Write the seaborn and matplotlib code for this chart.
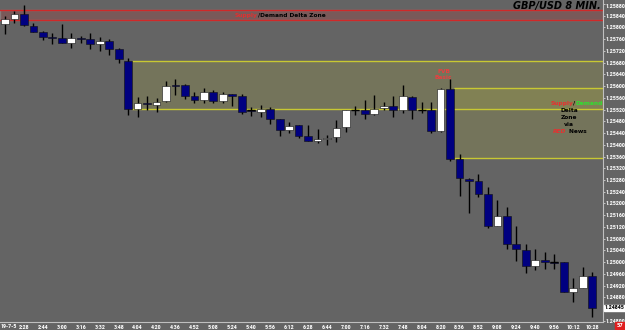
import matplotlib
matplotlib.use("Agg")
import matplotlib.pyplot as plt
from matplotlib import font_manager
import seaborn as sns
import numpy as np
import pandas as pd

# ---------------- data (GBP/USD, 8-minute candles) ----------------
times = ["19-7-5", "2:20", "2:28", "2:36", "2:44", "2:52", "3:00", "3:08", "3:16", "3:24",
         "3:32", "3:40", "3:48", "3:56", "4:04", "4:12", "4:20", "4:28", "4:36", "4:44",
         "4:52", "5:00", "5:08", "5:16", "5:24", "5:32", "5:40", "5:48", "5:56", "6:04",
         "6:12", "6:20", "6:28", "6:36", "6:44", "6:52", "7:00", "7:08", "7:16", "7:24",
         "7:32", "7:40", "7:48", "7:56", "8:04", "8:12", "8:20", "8:28", "8:36", "8:44",
         "8:52", "9:00", "9:08", "9:16", "9:24", "9:32", "9:40", "9:48", "9:56", "10:04",
         "10:12", "10:20", "10:28"]
opens = [1.25812, 1.25829, 1.25846, 1.25806, 1.25786, 1.25768, 1.25765, 1.25748, 1.25765, 1.25761,
         1.25744, 1.25755, 1.25727, 1.25687, 1.25521, 1.25543, 1.25536, 1.25549, 1.25604, 1.25604,
         1.25566, 1.25553, 1.25579, 1.25550, 1.25573, 1.25566, 1.25517, 1.25512, 1.25521, 1.25487,
         1.25450, 1.25467, 1.25430, 1.25414, 1.25420, 1.25427, 1.25462, 1.25519, 1.25519, 1.25504,
         1.25524, 1.25532, 1.25519, 1.25564, 1.25519, 1.25519, 1.25448, 1.25590, 1.25351, 1.25283,
         1.25276, 1.25232, 1.25124, 1.25157, 1.25062, 1.25041, 1.24988, 1.25007, 1.24999, 1.25001,
         1.24899, 1.24913, 1.24953]
highs = [1.25839, 1.25856, 1.25877, 1.25814, 1.25788, 1.25782, 1.25812, 1.25782, 1.25771, 1.25780,
         1.25766, 1.25761, 1.25730, 1.25695, 1.25564, 1.25566, 1.25558, 1.25617, 1.25623, 1.25606,
         1.25581, 1.25593, 1.25587, 1.25581, 1.25574, 1.25573, 1.25530, 1.25536, 1.25528, 1.25488,
         1.25479, 1.25468, 1.25467, 1.25453, 1.25433, 1.25484, 1.25520, 1.25532, 1.25553, 1.25570,
         1.25547, 1.25566, 1.25604, 1.25565, 1.25547, 1.25547, 1.25595, 1.25624, 1.25369, 1.25288,
         1.25299, 1.25255, 1.25212, 1.25187, 1.25123, 1.25062, 1.25044, 1.25035, 1.25027, 1.25002,
         1.24947, 1.24984, 1.24967]
lows = [1.25778, 1.25816, 1.25806, 1.25785, 1.25757, 1.25743, 1.25747, 1.25729, 1.25748, 1.25726,
        1.25720, 1.25706, 1.25678, 1.25502, 1.25494, 1.25519, 1.25513, 1.25547, 1.25570, 1.25555,
        1.25541, 1.25543, 1.25541, 1.25543, 1.25532, 1.25504, 1.25499, 1.25496, 1.25471, 1.25430,
        1.25439, 1.25422, 1.25413, 1.25407, 1.25399, 1.25410, 1.25444, 1.25502, 1.25488, 1.25503,
        1.25519, 1.25496, 1.25509, 1.25487, 1.25507, 1.25441, 1.25444, 1.25345, 1.25225, 1.25168,
        1.25223, 1.25115, 1.25122, 1.25044, 1.25004, 1.24964, 1.24973, 1.24975, 1.24975, 1.24897,
        1.24865, 1.24912, 1.24814]
closes = [1.25828, 1.25846, 1.25808, 1.25786, 1.25769, 1.25764, 1.25748, 1.25765, 1.25761, 1.25743,
          1.25755, 1.25727, 1.25691, 1.25521, 1.25541, 1.25538, 1.25547, 1.25601, 1.25602, 1.25566,
          1.25553, 1.25581, 1.25549, 1.25572, 1.25566, 1.25511, 1.25515, 1.25521, 1.25488, 1.25450,
          1.25464, 1.25430, 1.25414, 1.25419, 1.25424, 1.25458, 1.25519, 1.25518, 1.25504, 1.25521,
          1.25532, 1.25519, 1.25566, 1.25519, 1.25518, 1.25448, 1.25590, 1.25351, 1.25286, 1.25277,
          1.25232, 1.25124, 1.25157, 1.25062, 1.25044, 1.24988, 1.25007, 1.25001, 1.24998, 1.24899,
          1.24913, 1.24953, 1.24845]

# zones (price bounds) and right-axis ticks
supply_zone = (1.25824, 1.25859)
delta_zone_1 = (1.25521, 1.25687)   # from candle 13 body
delta_zone_2 = (1.25354, 1.25593)   # from candle 47 body
price_ticks = [1.25880, 1.25840, 1.25800, 1.25760, 1.25720, 1.25680, 1.25640, 1.25600,
               1.25560, 1.25520, 1.25480, 1.25440, 1.25400, 1.25360, 1.25320, 1.25280,
               1.25240, 1.25200, 1.25160, 1.25120, 1.25080, 1.25040, 1.25000, 1.24960,
               1.24920, 1.24880, 1.24800]
last_price = 1.24845

df = pd.DataFrame({"time": times, "open": opens, "high": highs, "low": lows, "close": closes})
df["idx"] = np.arange(len(df))
df["bull"] = df["close"] >= df["open"]
df["body_lo"] = df[["open", "close"]].min(axis=1)
df["body_h"] = (df["close"] - df["open"]).abs()

# ---------------- style ----------------
BG = "#646464"
sns.set_theme(style="dark", rc={"axes.facecolor": BG, "figure.facecolor": BG})
plt.rcParams["font.family"] = ["DejaVu Sans"]

available = {f.name for f in font_manager.fontManager.ttflist}
NARROW = "DejaVu Sans"
for cand in ["Liberation Sans Narrow", "DejaVu Sans Condensed", "Roboto Condensed"]:
    if cand in available:
        NARROW = cand
        break
tick_fs = 4.3 if NARROW != "DejaVu Sans" else 3.4

fig = plt.figure(figsize=(6.25, 3.3), dpi=100)
ax = fig.add_axes([0.0, 8 / 330, 603 / 625, 322 / 330])
ax.set_facecolor(BG)

# zones
n = len(df)
ax.axhspan(*supply_zone, xmin=0, xmax=1, facecolor="#dc2828", alpha=0.18, zorder=0.5)
for yv in supply_zone:
    ax.axhline(yv, color="#d02828", lw=1.0, zorder=0.6)

x1 = 13.4
x2 = 47.4
right = 63.15
ax.fill_between([x1, right], delta_zone_1[0], delta_zone_1[1], color="#c8c832", alpha=0.16, lw=0, zorder=0.5)
ax.fill_between([x2, right], delta_zone_2[0], delta_zone_2[1], color="#c8c832", alpha=0.16, lw=0, zorder=0.5)
for yv in delta_zone_1:
    ax.hlines(yv, x1, right, color="#c8c832", lw=1.0, zorder=0.6)
ax.vlines(x1, delta_zone_1[0], delta_zone_1[1], color="#c8c832", lw=0.6, alpha=0.5, zorder=0.6)
for yv in delta_zone_2:
    ax.hlines(yv, x2, right, color="#c8c832", lw=1.0, zorder=0.6)

# candles: wicks then bodies
ax.vlines(df["idx"], df["low"], df["high"], color="black", lw=1.0, zorder=2)
min_h = 0.000015
heights = np.maximum(df["body_h"].values, min_h)
colors = np.where(df["bull"], "white", "#000080")
ax.bar(df["idx"], heights, bottom=df["body_lo"], width=0.82, color=colors,
       edgecolor="#101010", linewidth=0.4, zorder=3)
# doji markers via seaborn
doji = df[df["body_h"] < 0.00002]
sns.scatterplot(data=doji, x="idx", y="open", marker="_", s=30, color="black",
                linewidth=1.0, ax=ax, zorder=4, legend=False)

# limits
ax.set_xlim(-0.53, right)
ax.set_ylim(1.24796, 1.258936)

# right axis
ax.yaxis.tick_right()
ax.set_yticks(price_ticks)
ax.set_yticklabels([f"{p:.5f}" for p in price_ticks])
ax.tick_params(axis="y", colors="#e8e8e8", labelsize=tick_fs, length=1.2, width=0.5, pad=0.6,
               labelcolor="white")
for lab in ax.get_yticklabels():
    lab.set_fontweight("bold")
    lab.set_family(NARROW)
ax.get_yticklabels()[0].set_va("top")

# bottom axis (first label drawn separately so it sits at the left edge)
xt = list(range(0, n, 2))
ax.set_xticks(xt)
ax.set_xticklabels([""] + [times[i] for i in xt[1:]])
ax.tick_params(axis="x", colors="#e8e8e8", labelsize=tick_fs, length=1.5, width=0.5, pad=0.5,
               labelcolor="white")
for lab in ax.get_xticklabels():
    lab.set_fontweight("bold")
    lab.set_family(NARROW)
fig.text(0.5 / 625, 4 / 330, times[0], ha="left", va="center", fontsize=tick_fs,
         fontweight="bold", family=NARROW, color="white")
ax.set_xlabel("")
ax.set_ylabel("")
ax.grid(False)
for s in ["top", "left"]:
    ax.spines[s].set_visible(False)
ax.spines["right"].set_color("#bfbfbf")
ax.spines["right"].set_linewidth(0.8)
ax.spines["bottom"].set_color("#bfbfbf")
ax.spines["bottom"].set_linewidth(0.8)

# last price box
ax.annotate(f"{last_price:.5f}", xy=(1.0, last_price), xycoords=("axes fraction", "data"),
            xytext=(1.3, 0), textcoords="offset points", fontsize=tick_fs, fontweight="bold",
            family=NARROW, color="black", va="center", ha="left",
            bbox=dict(boxstyle="square,pad=0.1", fc="white", ec="white"))

# texts
ax.text(0.997, 0.998, "GBP/USD 8 MIN.", transform=ax.transAxes, ha="right", va="top",
        fontsize=7, fontweight="bold", fontstyle="italic", color="black")

FS = 4.2
mid = (supply_zone[0] + supply_zone[1]) / 2
t1 = ax.text(24.3, mid, "Supply", ha="left", va="center", fontsize=FS, fontweight="bold",
             color="#e03030")
ax.annotate("/Demand Delta Zone", xycoords=t1, xy=(1, 0.5), va="center", ha="left",
            fontsize=FS, fontweight="bold", color="black")

ax.text(46.3, 1.25650, "FVB", ha="center", va="center", fontsize=FS, fontweight="bold", color="#e84040")
ax.text(46.3, 1.25630, "Basic", ha="center", va="center", fontsize=FS, fontweight="bold", color="#e84040")

t2 = ax.text(57.6, 1.25542, "Supply", ha="left", va="center", fontsize=FS, fontweight="bold",
             color="#e83030")
t3 = ax.annotate("/", xycoords=t2, xy=(1, 0.5), va="center", ha="left",
                 fontsize=FS, fontweight="bold", color="black")
ax.annotate("Demand", xycoords=t3, xy=(1, 0.5), va="center", ha="left",
            fontsize=FS, fontweight="bold", color="#30e030")
ax.text(59.6, 1.25516, "Delta", ha="center", va="center", fontsize=FS, fontweight="bold", color="black")
ax.text(59.6, 1.25492, "Zone", ha="center", va="center", fontsize=FS, fontweight="bold", color="black")
ax.text(59.6, 1.25468, "via", ha="center", va="center", fontsize=FS, fontweight="bold", color="black")
t4 = ax.text(57.9, 1.25444, "RED", ha="left", va="center", fontsize=FS, fontweight="bold",
             fontstyle="italic", color="#e83030")
ax.annotate(" News", xycoords=t4, xy=(1, 0.5), va="center", ha="left",
            fontsize=FS, fontweight="bold", color="black")

# corner red box
fig.text(620 / 625, 4.5 / 330, "57", ha="center", va="center", fontsize=3.5, fontweight="bold",
         color="white", bbox=dict(boxstyle="square,pad=0.25", fc="#e02020", ec="#e02020"))

fig.savefig("out.png", dpi=100, facecolor=BG)
